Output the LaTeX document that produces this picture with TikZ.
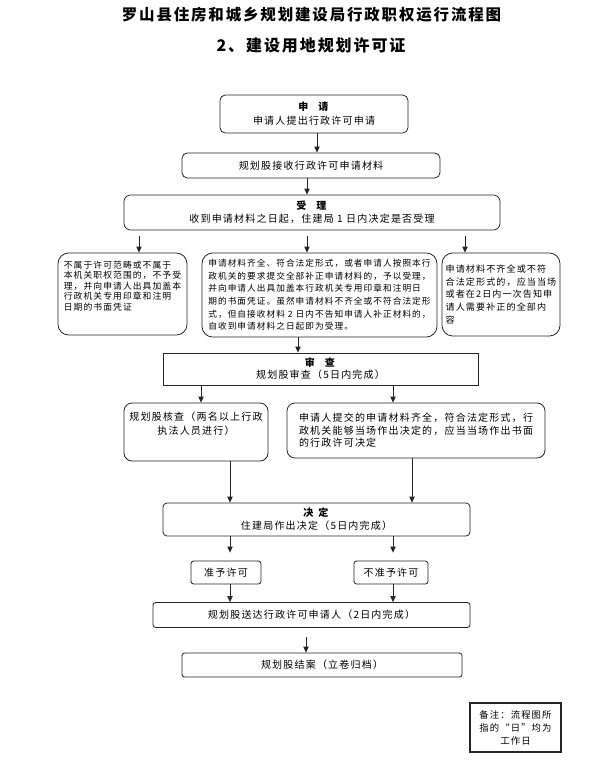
\documentclass[tikz,border=0pt]{standalone}
\usepackage{fontspec}
\setmainfont{Noto Sans CJK SC}[LetterSpace=12]
\usetikzlibrary{arrows.meta}

\begin{document}
\begin{tikzpicture}[
  x=0.75pt, y=-0.75pt,
  box/.style={rectangle, rounded corners=3pt, draw=black!85, line width=0.6pt,
              inner sep=0pt, font=\fontsize{7.5}{9.75}\selectfont, align=center},
  sbox/.style={box, sharp corners},
  cbox/.style={box, rounded corners=8pt},
  txt/.style={inner sep=0pt, align=left},
  arr/.style={-{Triangle[length=4.5pt,width=4pt]}, line width=0.6pt, black!85}
]
  \useasboundingbox (0,0) rectangle (592,760);
  \node[font=\fontsize{11.6}{14}\selectfont\bfseries] (title) at (311.5,15) {罗山县住房和城乡规划建设局行政职权运行流程图};
  \node[font=\fontsize{12}{14}\selectfont\bfseries] (sub) at (311,45) {2、建设用地规划许可证};

  % application and acceptance
  \node[box, minimum width=141pt, minimum height=28.5pt, rounded corners=4pt, font=\fontsize{7.5}{10.5}\selectfont] (req) at (314,114) {\textbf{申\quad 请}\\申请人提出行政许可申请};
  \node[box, minimum width=193.5pt, minimum height=18.75pt, rounded corners=4pt] (recv) at (311,165.5) {规划股接收行政许可申请材料};
  \node[box, minimum width=282pt, minimum height=26.25pt, rounded corners=5pt] (acc) at (312,212.5) {\textbf{受\quad 理}\\收到申请材料之日起，住建局 1 日内决定是否受理};

  \node[cbox, minimum width=96.75pt, minimum height=61.5pt] (rej) at (122.5,294) {};
  \node[txt, font=\fontsize{6.6}{7.8}\selectfont] (rejtxt) at ([yshift=6pt]rej.center) {不属于许可范畴或不属于\\本机关职权范围的，不予受\\理，并向申请人出具加盖本\\行政机关专用印章和注明\\日期的书面凭证};
  \node[cbox, minimum width=176.25pt, minimum height=63pt, font=\fontsize{6.5}{9.5}\selectfont, align=left] (ok) at (319.5,295) {申请材料齐全、符合法定形式，或者申请人按照本行\\政机关的要求提交全部补正申请材料的，予以受理，\\并向申请人出具加盖本行政机关专用印章和注明日\\期的书面凭证。虽然申请材料不齐全或不符合法定形\\式，但自接收材料 2 日内不告知申请人补正材料的，\\自收到申请材料之日起即为受理。};
  \node[cbox, minimum width=88.5pt, minimum height=62.25pt, font=\fontsize{6.8}{9.4}\selectfont, align=left] (fix) at (501,294.5) {申请材料不齐全或不符\\合法定形式的，应当当场\\或者在2日内一次告知申\\请人需要补正的全部内\\容};

  % review
  \node[sbox, minimum width=236.25pt, minimum height=24pt, font=\fontsize{7.5}{9}\selectfont] (rev) at (320.5,369) {\textbf{审\quad 查}\\规划股审查（5日内完成）};
  \node[box, minimum width=108pt, minimum height=43.5pt, rounded corners=6pt] (chk) at (196,432) {};
  \node[txt, align=center, font=\fontsize{7.5}{10.5}\selectfont] (chktxt) at ([yshift=6pt]chk.center) {规划股核查（两名以上行政\\执法人员进行）};
  \node[box, minimum width=193.5pt, minimum height=41.25pt, rounded corners=6pt, align=left, font=\fontsize{7.5}{9.4}\selectfont] (spot) at (416,430.5) {申请人提交的申请材料齐全，符合法定形式，行\\政机关能够当场作出决定的，应当当场作出书面\\的行政许可决定};

  % decision
  \node[box, minimum width=230.25pt, minimum height=24.75pt] (dec) at (316.5,519.5) {\textbf{决\enspace 定}\\住建局作出决定（5日内完成）};
  \node[box, minimum width=52.5pt, minimum height=17.25pt, rounded corners=2pt] (yes) at (226,572.5) {准予许可};
  \node[box, minimum width=55.5pt, minimum height=17.25pt, rounded corners=2pt] (no) at (391,572.5) {不准予许可};
  \node[box, minimum width=237.75pt, minimum height=18.75pt, rounded corners=2pt] (send) at (311.5,615) {规划股送达行政许可申请人（2日内完成）};
  \node[box, minimum width=210pt, minimum height=18pt, rounded corners=2pt] (close) at (322,665) {规划股结案（立卷归档）};

  \node[sbox, line width=1.2pt, minimum width=68.25pt, minimum height=36.75pt, font=\fontsize{7}{9.75}\selectfont] (note) at (515.5,727.5) {备注：流程图所\\指的“日”均为\\工作日};

  \draw[arr] (req.south -| 317,0) -- (recv.north -| 317,0);
  \draw[arr] (recv.south -| 307,0) -- (acc.north -| 307,0);
  \draw[arr, shorten <=4.5pt] (acc.south -| 139,0) -- (rej.north -| 139,0);
  \draw[arr, shorten <=4.5pt] (acc.south -| 307,0) -- (ok.north -| 307,0);
  \draw[arr, shorten <=4.5pt] (acc.south -| 465,0) -- (fix.north -| 465,0);
  \draw[arr] (ok.south -| 298,0) -- (rev.north -| 298,0);
  \draw[arr] (rev.south -| 201,0) -- (chk.north -| 201,0);
  \draw[arr] (rev.south -| 393,0) -- (spot.north -| 393,0);
  \draw[arr] (chk.south -| 230,0) -- (dec.north -| 230,0);
  \draw[arr] (spot.south -| 412,0) -- (dec.north -| 412,0);
  \draw[arr, shorten >=6pt] (dec.south -| 230,0) -- (yes.north -| 230,0);
  \draw[arr, shorten >=6pt] (dec.south -| 393,0) -- (no.north -| 393,0);
  \draw[arr] (yes.south -| 230,0) -- (send.north -| 230,0);
  \draw[arr] (no.south -| 393,0) -- (send.north -| 393,0);
  \draw[arr, shorten <=6.75pt] (send.south -| 306,0) -- (close.north -| 306,0);
\end{tikzpicture}
\end{document}
